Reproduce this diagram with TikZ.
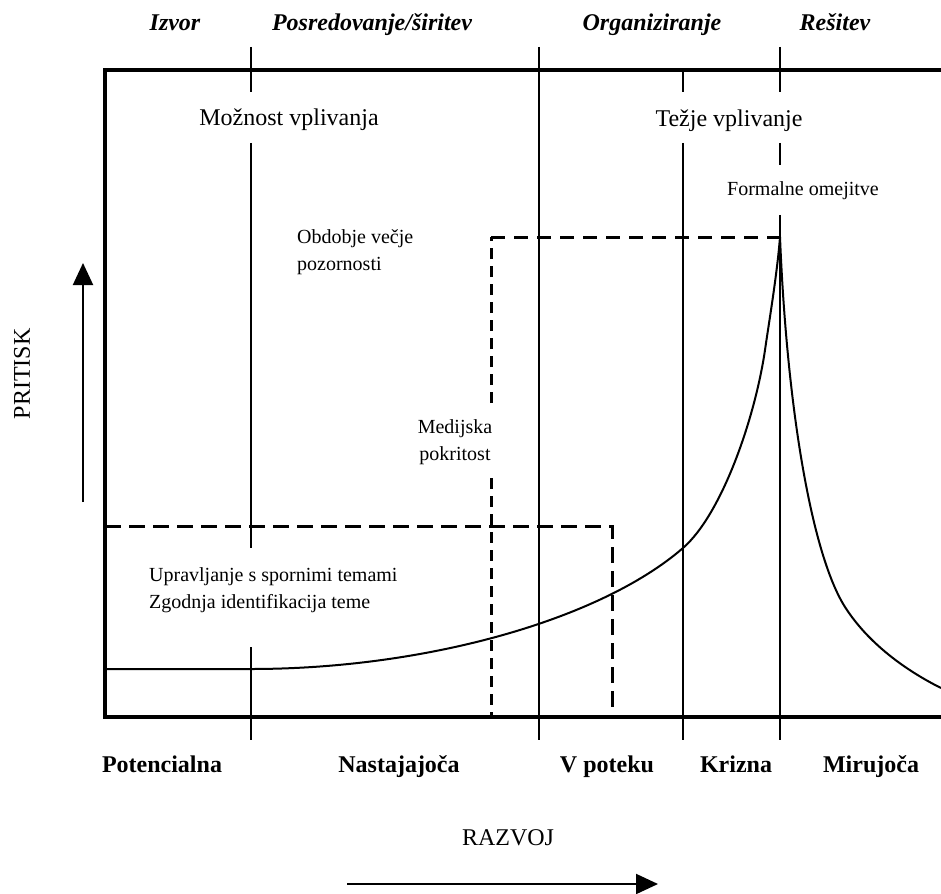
\documentclass[tikz,border=0pt]{standalone}
\usepackage{fontspec}
\setmainfont{Liberation Serif}
\usetikzlibrary{arrows.meta}
\begin{document}
\begin{tikzpicture}[x=1pt,y=-1pt,
  frame/.style={line width=4pt, line join=miter},
  vline/.style={line width=2pt},
  curve/.style={line width=2pt},
  dashA/.style={line width=3pt, dash pattern=on 16pt off 8pt},
  dashB/.style={line width=3pt, dash pattern=on 11pt off 7pt},
  dashC/.style={line width=3pt, dash pattern=on 14pt off 9pt},
  phase/.style={font=\fontsize{24}{28}\selectfont\bfseries\itshape, inner sep=0pt, anchor=base},
  stage/.style={font=\fontsize{24}{28}\selectfont\bfseries, inner sep=0pt, anchor=base},
  big/.style={font=\fontsize{24}{28}\selectfont, inner sep=0pt},
  small/.style={font=\fontsize{20}{27}\selectfont, inner sep=0pt},
  axarrow/.style={line width=2pt, -{Triangle[length=22pt,width=20pt]}},
]
\useasboundingbox (0,0) rectangle (941,893);

% top phase labels
\node[phase] (izvor) at (175,31) {Izvor};
\node[phase] (posred) at (372,31) {Posredovanje/širitev};
\node[phase] (organ) at (652,31) {Organiziranje};
\node[phase] (resitev) at (835,31) {Rešitev};

% dashed regions
\draw[dashA] (105,526) -- (612,526) -- (612,717);
\draw[dashB] (491,403) -- (491,237);
\draw[dashC] (491,237) -- (780,237);
\draw[dashB] (491,478) -- (491,717);

% vertical lines
\draw[vline] (251,47) -- (251,92);
\draw[vline] (251,143) -- (251,548);
\draw[vline] (251,647) -- (251,740);
\draw[vline] (539,47) -- (539,740);
\draw[vline] (683,70) -- (683,92);
\draw[vline] (683,143) -- (683,740);
\draw[vline] (780,47) -- (780,92);
\draw[vline] (780,143) -- (780,165);
\draw[vline] (780,215) -- (780,740);

% curve
\draw[curve] (105,669) -- (251,669)
  .. controls (425,669) and (600,620) .. (683,548)
  .. controls (722,514) and (755,418) .. (765,350)
  .. controls (769,322) and (777,275) .. (780,237);
\draw[curve] (780,237)
  .. controls (787,410) and (812,555) .. (845,607)
  .. controls (868,643) and (905,670) .. (941,688);

% frame
\draw[frame] (945,70) -- (105,70) -- (105,717) -- (945,717);

% texts inside
\node[big, anchor=base] (moznost) at (289,126) {Možnost vplivanja};
\node[big, anchor=base] (tezje) at (729,127) {Težje vplivanje};
\node[small, anchor=base] (formalne) at (803,196) {Formalne omejitve};
\node[small, anchor=west, align=left] (obdobje) at (297,252) {Obdobje večje\\pozornosti};
\node[small, align=center] (medijska) at (455,442) {Medijska\\pokritost};
\node[small, anchor=west, align=left] (upravljanje) at (149,590) {Upravljanje s spornimi temami\\Zgodnja identifikacija teme};

% bottom stage labels
\node[stage] (potencialna) at (162,772) {Potencialna};
\node[stage] (nastajajoca) at (399,772) {Nastajajoča};
\node[stage] (vpoteku) at (607,772) {V poteku};
\node[stage] (krizna) at (736,772) {Krizna};
\node[stage] (mirujoca) at (871,772) {Mirujoča};

% axes
\node[big, rotate=90] (pritisk) at (22,374) {PRITISK};
\coordinate (pa) at (83,502);
\coordinate (pb) at (83,263);
\draw[axarrow] (pa) -- (pb);
\node[big, anchor=base] (razvoj) at (508,845) {RAZVOJ};
\coordinate (ra) at (347,884);
\coordinate (rb) at (658,884);
\draw[axarrow] (ra) -- (rb);
\end{tikzpicture}
\end{document}
